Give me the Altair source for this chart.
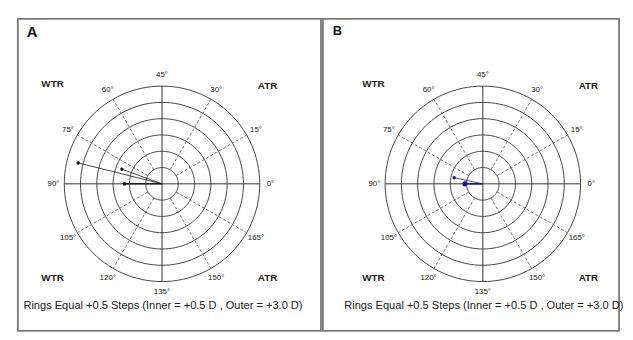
import altair as alt
import numpy as np
import pandas as pd

# ---- data ----
RING_D = [0.5, 1.0, 1.5, 2.0, 2.5, 3.0]            # ring radii (D)
LABEL_AXES = [0, 15, 30, 45, 60, 75, 90, 105, 120, 135, 150, 165]
DASHED_AXES = [15, 30, 60, 75, 105, 120, 150, 165]
SOLID_AXES = [0, 45]                                 # full diameters (0-90, 45-135)
A_MAG = [2.65, 1.31, 1.15]                           # panel A vectors (D)
A_AXIS = [83, 80, 90]                                # panel A axes (deg)
B_MAG = [0.55, 0.90]                                 # panel B vectors (D)
B_AXIS = [90, 84]                                    # panel B axes (deg)
CORNER_TEXT = ["WTR", "ATR", "WTR", "ATR"]
CORNER_X = [-3.36, 3.24, -3.36, 3.24]
CORNER_Y = [3.06, 3.0, -2.88, -2.88]
CAPTION = "Rings Equal +0.5 Steps (Inner = +0.5 D , Outer = +3.0 D)"
PANEL_LETTERS = ["A", "B"]

PX = 33.0      # pixels per dioptre
H = 316
LABEL_R = 3.33
FONT = "Liberation Sans"


def polar(r, axis_deg):
    t = np.deg2rad(2 * np.asarray(axis_deg, dtype=float))
    return np.asarray(r) * np.cos(t), np.asarray(r) * np.sin(t)


def panel(letter, letter_size, letter_x, width, cx, mags, axes, color, sizes, widths):
    xs = alt.Scale(domain=[-cx / PX, (width - cx) / PX], nice=False, zero=False)
    ys = alt.Scale(domain=[-(H - 167) / PX, 167 / PX], nice=False, zero=False)
    X = lambda f: alt.X(f, type="quantitative", scale=xs, axis=None)
    Y = lambda f: alt.Y(f, type="quantitative", scale=ys, axis=None)

    # rings
    th = np.arange(0, 361, 3)
    rows = []
    for r in RING_D:
        for i, t in enumerate(th):
            rows.append({"ring": r, "i": i,
                         "x": r * np.cos(np.deg2rad(t)), "y": r * np.sin(np.deg2rad(t))})
    rings = alt.Chart(pd.DataFrame(rows)).mark_line(
        color="#444444", strokeWidth=1).encode(
        x=X("x"), y=Y("y"), detail="ring:N", order="i:Q")

    # solid diameters
    srows = []
    for a in SOLID_AXES:
        for k, rr in enumerate([-RING_D[-1], RING_D[-1]]):
            x, y = polar(rr, a)
            srows.append({"a": a, "k": k, "x": float(x), "y": float(y)})
    solid = alt.Chart(pd.DataFrame(srows)).mark_line(
        color="#333333", strokeWidth=1).encode(
        x=X("x"), y=Y("y"), detail="a:N", order="k:Q")

    # dashed spokes
    drows = []
    for a in DASHED_AXES:
        for k, rr in enumerate([RING_D[0], RING_D[-1]]):
            x, y = polar(rr, a)
            drows.append({"a": a, "k": k, "x": float(x), "y": float(y)})
    dashed = alt.Chart(pd.DataFrame(drows)).mark_line(
        color="#666666", strokeWidth=0.9, strokeDash=[3, 2]).encode(
        x=X("x"), y=Y("y"), detail="a:N", order="k:Q")

    # angle labels
    lx, ly = polar(LABEL_R, LABEL_AXES)
    labels = alt.Chart(pd.DataFrame({
        "x": lx, "y": ly, "t": [f"{a}°" for a in LABEL_AXES]})).mark_text(
        font=FONT, fontSize=8, color="#222222", align="center", baseline="middle").encode(
        x=X("x"), y=Y("y"), text="t:N")

    corners = alt.Chart(pd.DataFrame({
        "x": CORNER_X, "y": CORNER_Y, "t": CORNER_TEXT})).mark_text(
        font=FONT, fontSize=10, fontWeight="bold", color="#222222",
        align="center", baseline="middle").encode(
        x=X("x"), y=Y("y"), text="t:N")

    caption = alt.Chart(pd.DataFrame({"x": [0.03], "y": [-3.76], "t": [CAPTION]})).mark_text(
        font=FONT, fontSize=11.2, color="#1a1a1a", align="center", baseline="middle").encode(
        x=X("x"), y=Y("y"), text="t:N")

    letter_t = alt.Chart(pd.DataFrame({"t": [letter]})).mark_text(
        font=FONT, fontSize=letter_size, fontWeight="bold", color="#111111",
        align="left", baseline="top").encode(
        x=alt.value(letter_x), y=alt.value(6), text="t:N")

    # vectors
    vx, vy = polar(mags, axes)
    vrows = []
    for j in range(len(mags)):
        vrows.append({"v": j, "k": 0, "x": 0.0, "y": 0.0, "w": widths[j]})
        vrows.append({"v": j, "k": 1, "x": float(vx[j]), "y": float(vy[j]), "w": widths[j]})
    vdf = pd.DataFrame(vrows)
    vlines = alt.Chart(vdf).mark_line(color=color).encode(
        x=X("x"), y=Y("y"), detail="v:N", order="k:Q",
        strokeWidth=alt.StrokeWidth("w:Q", scale=None, legend=None))
    pts = alt.Chart(pd.DataFrame({"x": vx, "y": vy, "s": sizes})).mark_circle(
        color=color, opacity=1).encode(
        x=X("x"), y=Y("y"), size=alt.Size("s:Q", scale=None, legend=None))

    layers = [rings, dashed, solid, labels, corners, caption, letter_t, vlines, pts]
    return alt.layer(*layers).properties(width=width, height=H)


pa = panel("A", 15, 9, 307, 146, A_MAG, A_AXIS, "#1a1a1a", [12, 12, 14], [0.8, 0.8, 1.6])
pb = panel("B", 13, 10, 300, 162, B_MAG, B_AXIS, "#1c1c6e", [28, 12], [1.6, 0.8])

chart = alt.hconcat(pa, pb, spacing=0).properties(
    padding={"left": 9, "top": 8, "right": 0, "bottom": 0},
    background="white",
).configure_view(stroke="#7a7a7a", strokeWidth=1.8)

chart.save("out.html", embed_options={"renderer": "svg", "actions": False})
